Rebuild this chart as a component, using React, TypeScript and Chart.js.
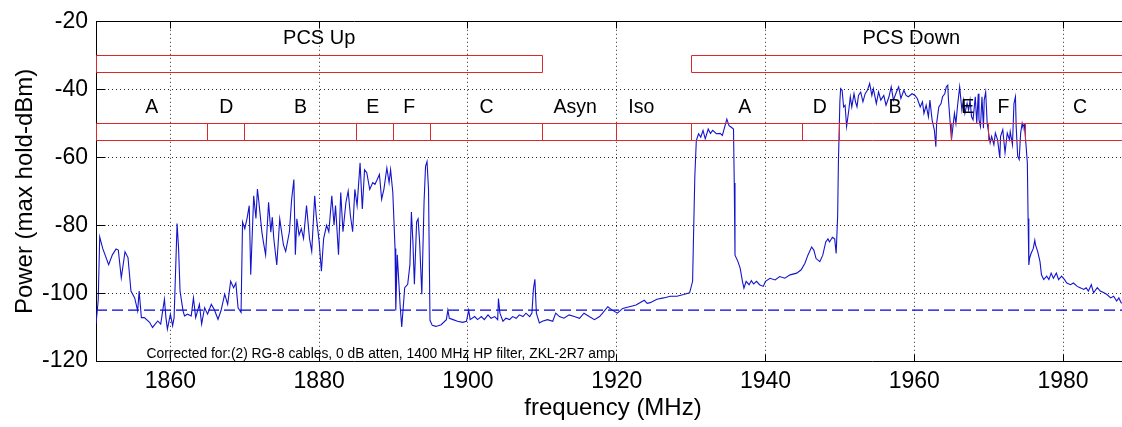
import React, { useEffect, useRef } from "react";
import { Chart, registerables } from "chart.js";

Chart.register(...registerables);

// ---------- data ----------
// PCS uplink part of the sweep, 1850-1910 MHz
const upFreq = [
  1850.0, 1850.3, 1850.5, 1850.9, 1851.7, 1852.2, 1852.7, 1853.0, 1853.4, 1853.9,
  1854.3, 1854.7, 1855.2, 1855.6, 1855.8, 1856.1, 1856.5, 1857.2, 1857.6, 1858.3,
  1858.7, 1859.2, 1859.4, 1859.6, 1860.0, 1860.3, 1860.5, 1860.9, 1861.1, 1861.3,
  1861.7, 1861.9, 1862.3, 1862.8, 1863.1, 1863.4, 1863.9, 1864.2, 1864.6, 1865.0,
  1865.5, 1865.9, 1866.4, 1866.8, 1867.3, 1867.7, 1868.1, 1868.5, 1868.8, 1869.1,
  1869.5, 1869.7, 1870.0, 1870.3, 1870.6, 1870.8, 1871.2, 1871.5, 1871.7, 1871.9,
  1872.3, 1872.5, 1872.8, 1873.2, 1873.5, 1873.7, 1873.9, 1874.3, 1874.7, 1875.2,
  1875.5, 1876.0, 1876.3, 1876.6, 1876.8, 1877.0, 1877.3, 1877.6, 1877.9, 1878.3,
  1878.7, 1879.0, 1879.4, 1879.6, 1880.0, 1880.3, 1880.6, 1881.0, 1881.3, 1881.7,
  1882.0, 1882.2, 1882.6, 1882.9, 1883.2, 1883.6, 1883.9, 1884.2, 1884.5, 1884.8,
  1885.1, 1885.5, 1885.8, 1886.1, 1886.4, 1886.8, 1887.2, 1887.5, 1887.8, 1888.1,
  1888.4, 1888.7, 1889.1, 1889.4, 1889.6, 1889.9, 1890.2, 1890.3, 1890.5, 1890.7,
  1890.9, 1891.1, 1891.3, 1891.5, 1891.9, 1892.2, 1892.4, 1892.6, 1892.8, 1893.1,
  1893.3, 1893.5, 1893.8, 1894.1, 1894.3, 1894.5, 1894.7, 1894.9, 1895.2, 1895.7,
  1896.4, 1897.1, 1897.3, 1897.5, 1898.0, 1898.6, 1899.3, 1899.8, 1900.1, 1900.3,
  1900.9, 1901.3, 1901.8, 1902.2, 1902.7, 1903.1, 1903.6, 1904.0, 1904.1, 1904.3,
  1904.7, 1905.1, 1905.6, 1906.0, 1906.5, 1906.9, 1907.4, 1907.8, 1908.3, 1908.6,
  1908.8, 1909.0, 1909.2, 1909.6,
];
const upPower = [
  -109.1, -102, -83.4, -86.8, -91.6, -88.7, -87, -87.3, -95.5, -87.8,
  -89.5, -99.4, -101.4, -105.2, -99.4, -107.2, -107.2, -108.6, -110.1, -108.2,
  -109.1, -101.8, -107.2, -110.6, -106.2, -109.6, -107.2, -79.5, -86.8, -99.4,
  -105.2, -106.7, -106.2, -106.7, -101.4, -107.2, -103.3, -109.1, -104.3, -106.2,
  -103.3, -104.8, -107.7, -105.2, -100.3, -103.3, -96.5, -98.4, -97, -104.3,
  -105.7, -79, -81, -78, -74.2, -94.6, -71.3, -78, -69.3, -73.2,
  -82, -84.9, -88.7, -73.2, -82, -77.6, -83.9, -91.7, -78.1, -85.8,
  -87.7, -81.9, -72.3, -66.5, -88.7, -78.1, -82.9, -81, -83.9, -74.2,
  -83.9, -87.7, -71.3, -77.1, -84.8, -93.5, -83.9, -80, -81.9, -71.3,
  -80, -74.2, -88.7, -70.3, -81.9, -73.2, -69.9, -77.1, -81.9, -69.4,
  -74.2, -61.6, -75.2, -63.6, -64.5, -69.4, -67.4, -67.9, -66.5, -65,
  -72.3, -69.4, -63.1, -67.4, -63.6, -70.3, -86.8, -105.1, -88.7, -96.4,
  -104.2, -110, -104.2, -98.4, -97.4, -91.6, -76.1, -84.8, -97.4, -79,
  -78.1, -84.8, -100.3, -73.2, -62.6, -61.2, -69.4, -108, -109.5, -109.8,
  -109.3, -107.8, -105, -107.4, -107.8, -108.3, -108.6, -108.3, -105, -107.8,
  -106.9, -107.8, -106.9, -107.8, -106.4, -107.4, -106.9, -107.8, -101.6, -105.9,
  -108.3, -107.4, -107.8, -106.9, -107.4, -106.4, -106.9, -105.9, -106.9, -105.9,
  -98.8, -95.9, -105.9, -108.8,
];

// unpaired / isochronous gap, 1910-1930 MHz
const gapFreq = [
  1910.0, 1910.7, 1911.4, 1911.8, 1912.3, 1912.9, 1913.6, 1914.3, 1915.0, 1915.6,
  1916.3, 1917.0, 1917.7, 1918.1, 1918.8, 1919.4, 1920.1, 1920.8, 1921.7, 1922.6,
  1923.7, 1924.1, 1924.5, 1925.4, 1926.3, 1927.2, 1928.1, 1929.0, 1929.8,
];
const gapPower = [
  -108.3, -107.8, -108.3, -105.9, -106.9, -107.4, -106.4, -106.9, -107.4, -105.9,
  -106.9, -107.8, -106.9, -105.9, -104, -105, -105.9, -104.5, -104, -103.5,
  -102.1, -103, -102.8, -101.8, -101.4, -100.9, -100.9, -100.4, -99.9,
];

// PCS downlink A/D blocks, 1930-1950 MHz
const downAFreq = [
  1930.2, 1930.3, 1930.5, 1930.7, 1931.0, 1931.3, 1931.6, 1931.9, 1932.3, 1932.6,
  1932.9, 1933.4, 1933.9, 1934.2, 1934.5, 1934.8, 1935.1, 1935.4, 1935.7, 1935.8,
  1935.9, 1936.3, 1936.6, 1936.9, 1937.1, 1937.4, 1937.8, 1938.1, 1938.4, 1938.8,
  1939.2, 1939.7, 1940.0, 1940.6, 1941.3, 1941.9, 1942.6, 1943.3, 1944.2, 1944.8,
  1945.3, 1945.7, 1946.2, 1946.5, 1946.8, 1947.3, 1947.7, 1948.1, 1948.4, 1948.6,
  1949.0, 1949.3, 1949.5, 1949.7, 1949.8,
];
const downAPower = [
  -96.5, -85.9, -65.6, -55, -53, -54, -52, -54.5, -51.6, -52.9,
  -52, -53, -52.9, -53.5, -51.1, -48.7, -50.6, -51.1, -51.6, -67.5,
  -88.8, -90.7, -92.7, -96.5, -98.5, -96.5, -97.5, -96.3, -97.3, -96.5,
  -97.5, -98, -96.5, -95.6, -96.1, -95.1, -95.6, -94.6, -94.1, -93.1,
  -91.2, -88.8, -86.4, -87.3, -89.8, -90.7, -88.8, -84.9, -84, -84.9,
  -83.5, -84, -88.3, -77.2, -61.7,
];

// PCS downlink B/E/F/C blocks, 1950-1989 MHz
const downBFreq = [
  1950.0, 1950.1, 1950.3, 1950.5, 1950.7, 1950.9, 1951.2, 1951.4, 1951.6, 1951.9,
  1952.1, 1952.3, 1952.5, 1952.8, 1953.1, 1953.4, 1953.7, 1954.0, 1954.3, 1954.5,
  1954.9, 1955.2, 1955.5, 1955.9, 1956.2, 1956.6, 1956.9, 1957.2, 1957.6, 1957.9,
  1958.2, 1958.6, 1958.9, 1959.2, 1959.7, 1960.1, 1960.4, 1960.8, 1961.1, 1961.3,
  1961.6, 1961.9, 1962.1, 1962.4, 1962.7, 1962.9, 1963.0, 1963.3, 1963.6, 1963.8,
  1964.1, 1964.3, 1964.5, 1964.6, 1964.8, 1965.0, 1965.2, 1965.4, 1965.6, 1965.8,
  1966.1, 1966.4, 1966.6, 1966.8, 1967.1, 1967.3, 1967.5, 1967.7, 1967.9, 1968.2,
  1968.4, 1968.6, 1968.7, 1968.9, 1969.1, 1969.3, 1969.4, 1969.6, 1969.8, 1970.0,
  1970.2, 1970.4, 1970.7, 1970.9, 1971.2, 1971.5, 1971.6, 1971.9, 1972.2, 1972.5,
  1972.8, 1972.9, 1973.2, 1973.4, 1973.6, 1973.7, 1973.9, 1974.1, 1974.3, 1974.5,
  1974.6, 1974.8, 1975.0, 1975.2, 1975.3, 1975.4, 1975.5, 1975.7, 1976.0, 1976.2,
  1976.3, 1976.6, 1976.9, 1977.1, 1977.4, 1977.8, 1978.1, 1978.4, 1978.7, 1979.1,
  1979.4, 1979.8, 1980.2, 1980.5, 1981.0, 1981.4, 1981.9, 1982.3, 1982.8, 1983.1,
  1983.4, 1983.8, 1984.1, 1984.6, 1985.0, 1985.5, 1985.9, 1986.4, 1986.8, 1987.2,
  1987.5, 1987.8, 1988.2, 1988.6, 1989.0,
];
const downBPower = [
  -43.4, -39.7, -40.2, -45.1, -44.6, -50.9, -46, -42.1, -45.1, -41.2,
  -43.6, -45.1, -41.7, -40.7, -43.6, -41.2, -40.2, -38.2, -41.7, -39.7,
  -44.1, -40.7, -43.1, -41.7, -44.6, -42.1, -39.2, -43.1, -40.7, -39.2,
  -42.6, -40.2, -41.7, -42.1, -41.2, -41.7, -42.6, -45.1, -43.6, -47,
  -44.6, -48, -43.1, -49, -51.9, -56.8, -50, -45.1, -44.1, -42.1,
  -41.2, -39.2, -38.7, -43.1, -49, -54.8, -50.9, -47, -50, -45.1,
  -39.2, -46, -43.1, -47, -44, -46, -43.1, -48, -48.9, -42.1,
  -49.9, -41.2, -48.9, -50.9, -42.1, -51.4, -43.1, -40.7, -49.9, -52.8,
  -55.7, -53.8, -56.2, -52.8, -54.8, -60.1, -53.8, -51.8, -58.6, -52.8,
  -54.8, -52.4, -56.2, -44.1, -42.1, -50.9, -59.6, -60.6, -52.8, -49.9,
  -50.9, -50.4, -55.7, -61.6, -78, -91.7, -89.7, -88.3, -86.8, -84.4,
  -85.8, -87.8, -90.7, -94.6, -96, -95, -96, -94.1, -95.6, -94.1,
  -96, -95, -96, -97, -97.5, -97, -98, -98.4, -98.9, -98.4,
  -99.4, -97.5, -99.9, -98.4, -99.4, -99.9, -100.4, -101.4, -100.9, -102.3,
  -101.4, -102.8, -103.3, -102.6, -103.4,
];

const refLevel = -105; // dashed reference line (dBm)

const xMin = 1850;
const xMax = 1989;
const yMin = -120;
const yMax = -20;
const xTicks = [1860, 1880, 1900, 1920, 1940, 1960, 1980];
const yTicks = [-120, -100, -80, -60, -40, -20];

// PCS allocation bars (top row)
const pcsNames = ["PCS Up", "PCS Down"];
const pcsStart = [1850, 1930];
const pcsEnd = [1910, 1995];
const pcsLabelX = [1880, 1959.6];
const pcsBarTop = -30;
const pcsBarBottom = -35;
const pcsLabelY = -25;

// PCS block bars (second row)
const blockEdges = [1850, 1865, 1870, 1885, 1890, 1895, 1910, 1920, 1930, 1945, 1950, 1965, 1970, 1975, 1995];
const blockNames = ["A", "D", "B", "E", "F", "C", "Asyn", "Iso", "A", "D", "B", "E", "F", "C"];
const blockLabelX = [1857.5, 1867.5, 1877.5, 1887.2, 1892.1, 1902.5, 1914.4, 1923.3, 1937.2, 1947.3, 1957.4, 1967.2, 1972.0, 1982.3];
const blockBarTop = -50;
const blockBarBottom = -55;
const blockLabelY = -45.3;

const noteText = "Corrected for:(2) RG-8 cables, 0 dB atten, 1400 MHz HP filter, ZKL-2R7 amp";
const noteX = 1856.8;
const noteY = -117.9;

const FONT = '"Liberation Sans", Arial, Helvetica, sans-serif';
const RED = "#dc2828";
const BLUE = "#1414cc";

const crisp = (v: number) => Math.round(v - 0.5) + 0.5;

const overlayPlugin = {
  id: "overlay",
  beforeDatasetsDraw(chart: any) {
    const { ctx, chartArea: a, scales } = chart;
    const xs = scales.x;
    const ys = scales.y;
    ctx.save();
    ctx.strokeStyle = "rgba(0,0,0,0.85)";
    ctx.lineWidth = 1;
    ctx.setLineDash([1, 3]);
    ctx.beginPath();
    for (const t of xTicks) {
      const X = crisp(xs.getPixelForValue(t));
      ctx.moveTo(X, a.top);
      ctx.lineTo(X, a.bottom);
    }
    for (const t of yTicks) {
      if (t === yMin || t === yMax) continue;
      const Y = crisp(ys.getPixelForValue(t));
      ctx.moveTo(a.left, Y);
      ctx.lineTo(a.right, Y);
    }
    ctx.stroke();
    ctx.restore();
  },
  afterDatasetsDraw(chart: any) {
    const { ctx, chartArea: a, scales } = chart;
    const xs = scales.x;
    const ys = scales.y;
    const X = (v: number) => xs.getPixelForValue(v);
    const Y = (v: number) => ys.getPixelForValue(v);

    ctx.save();
    ctx.beginPath();
    ctx.rect(a.left, a.top - 1, a.right - a.left + 1, a.bottom - a.top + 2);
    ctx.clip();

    // red allocation bars
    ctx.strokeStyle = RED;
    ctx.lineWidth = 1;
    ctx.setLineDash([]);
    ctx.beginPath();
    for (let i = 0; i < pcsStart.length; i++) {
      const x1 = crisp(X(pcsStart[i]));
      const x2 = crisp(X(pcsEnd[i]));
      const y1 = crisp(Y(pcsBarTop));
      const y2 = crisp(Y(pcsBarBottom));
      ctx.rect(x1, y1, x2 - x1, y2 - y1);
    }
    const by1 = crisp(Y(blockBarTop));
    const by2 = crisp(Y(blockBarBottom));
    ctx.moveTo(crisp(X(blockEdges[0])), by1);
    ctx.lineTo(crisp(X(blockEdges[blockEdges.length - 1])), by1);
    ctx.moveTo(crisp(X(blockEdges[0])), by2);
    ctx.lineTo(crisp(X(blockEdges[blockEdges.length - 1])), by2);
    for (const e of blockEdges) {
      const ex = crisp(X(e));
      ctx.moveTo(ex, by1);
      ctx.lineTo(ex, by2);
    }
    ctx.stroke();

    // labels
    ctx.fillStyle = "#000";
    ctx.textAlign = "center";
    ctx.textBaseline = "middle";
    ctx.font = `20px ${FONT}`;
    for (let i = 0; i < pcsNames.length; i++) {
      ctx.fillText(pcsNames[i], X(pcsLabelX[i]), Y(pcsLabelY));
    }
    ctx.font = `19.5px ${FONT}`;
    for (let i = 0; i < blockNames.length; i++) {
      ctx.fillText(blockNames[i], X(blockLabelX[i]), Y(blockLabelY));
    }
    ctx.textAlign = "left";
    ctx.font = `13.8px ${FONT}`;
    ctx.fillText(noteText, X(noteX), Y(noteY));
    ctx.restore();

    // box top edge and inward tick marks
    ctx.save();
    ctx.strokeStyle = "#000";
    ctx.lineWidth = 1;
    ctx.beginPath();
    const top = crisp(a.top);
    const bottom = crisp(a.bottom);
    const left = crisp(a.left);
    ctx.moveTo(a.left, top);
    ctx.lineTo(a.right, top);
    for (const t of xTicks) {
      const tx = crisp(X(t));
      ctx.moveTo(tx, bottom);
      ctx.lineTo(tx, bottom - 7);
      ctx.moveTo(tx, top);
      ctx.lineTo(tx, top + 7);
    }
    for (const t of yTicks) {
      const ty = crisp(Y(t));
      ctx.moveTo(left, ty);
      ctx.lineTo(left + 9, ty);
    }
    ctx.stroke();
    ctx.restore();
  },
};

export default function App() {
  const canvasRef = useRef<HTMLCanvasElement | null>(null);

  useEffect(() => {
    const canvas = canvasRef.current;
    if (!canvas) return;
    const trace = [
      ...upFreq.map((f, i) => ({ x: f, y: upPower[i] })),
      ...gapFreq.map((f, i) => ({ x: f, y: gapPower[i] })),
      ...downAFreq.map((f, i) => ({ x: f, y: downAPower[i] })),
      ...downBFreq.map((f, i) => ({ x: f, y: downBPower[i] })),
    ];
    const chart = new Chart(canvas, {
      type: "line",
      data: {
        datasets: [
          {
            data: trace,
            borderColor: BLUE,
            borderWidth: 1.1,
            pointRadius: 0,
            tension: 0,
            fill: false,
          },
          {
            data: [
              { x: xMin, y: refLevel },
              { x: xMax, y: refLevel },
            ],
            borderColor: "#0000dd",
            borderWidth: 1.3,
            borderDash: [11, 5],
            pointRadius: 0,
            fill: false,
          },
        ],
      },
      options: {
        animation: false,
        responsive: true,
        maintainAspectRatio: false,
        events: [],
        layout: { padding: { top: 17, left: 0, right: 0, bottom: 0 } },
        plugins: {
          legend: { display: false },
          tooltip: { enabled: false },
          title: { display: false },
        },
        scales: {
          x: {
            type: "linear",
            min: xMin,
            max: xMax,
            afterBuildTicks: (s: any) => {
              s.ticks = xTicks.map((v) => ({ value: v }));
            },
            afterFit: (s: any) => {
              s.height = 66;
            },
            grid: { display: false, drawTicks: false },
            border: { display: true, color: "#000", width: 1 },
            ticks: {
              autoSkip: false,
              maxRotation: 0,
              padding: 7,
              color: "#000",
              font: { family: FONT, size: 23 },
              callback: (v: any) => String(v),
            },
            title: {
              display: true,
              text: "frequency (MHz)",
              color: "#000",
              font: { family: FONT, size: 24 },
              padding: { top: 0, bottom: 4.5 },
            },
          },
          y: {
            type: "linear",
            min: yMin,
            max: yMax,
            afterBuildTicks: (s: any) => {
              s.ticks = yTicks.map((v) => ({ value: v }));
            },
            afterFit: (s: any) => {
              s.width = 96;
            },
            grid: { display: false, drawTicks: false },
            border: { display: true, color: "#000", width: 1 },
            ticks: {
              autoSkip: false,
              padding: 8,
              color: "#000",
              font: { family: FONT, size: 23 },
              callback: (v: any) => String(v),
            },
            title: {
              display: true,
              text: "Power (max hold-dBm)",
              color: "#000",
              font: { family: FONT, size: 24 },
              padding: { top: 10.5, bottom: 0 },
            },
          },
        },
      },
      plugins: [overlayPlugin],
    });
    return () => chart.destroy();
  }, []);

  return (
    <div
      style={{
        position: "fixed",
        left: 0,
        top: 0,
        width: 1122,
        height: 427,
        background: "#fff",
        overflow: "hidden",
      }}
    >
      <div style={{ position: "relative", width: 1130, height: 427 }}>
        <canvas ref={canvasRef} />
      </div>
    </div>
  );
}
